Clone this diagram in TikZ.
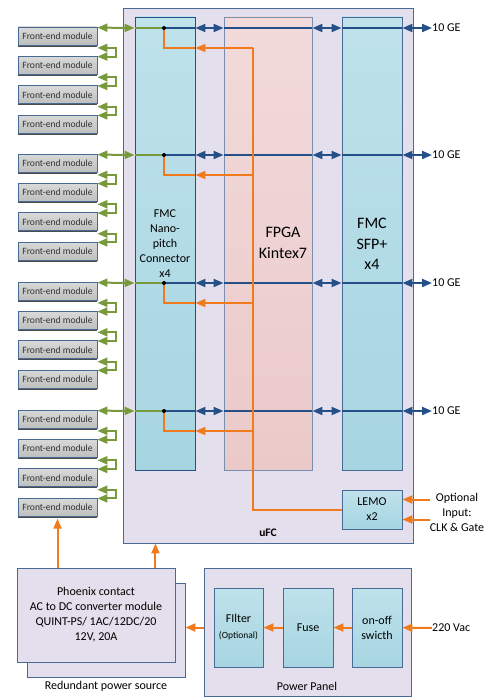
\documentclass[tikz,border=0pt]{standalone}
\usepackage{fontspec}
\setmainfont{Carlito}
\usetikzlibrary{arrows.meta,positioning,shadows}

\definecolor{lav}{HTML}{E4DFEC}
\definecolor{frame}{HTML}{4A6A96}
\definecolor{cyantop}{HTML}{BFE2EB}
\definecolor{cyanbot}{HTML}{A6D5E1}
\definecolor{pinktop}{HTML}{F2DADB}
\definecolor{pinkbot}{HTML}{EBC9C9}
\definecolor{greytop}{HTML}{D9D9D9}
\definecolor{greybot}{HTML}{BEBEBE}
\definecolor{gnline}{HTML}{789A3C}
\definecolor{blline}{HTML}{244F88}
\definecolor{orline}{HTML}{F07A1C}

\tikzset{
  board/.style={draw=frame, fill=lav, line width=0.9pt, inner sep=0pt},
  colbox/.style={draw=frame, top color=cyantop, bottom color=cyanbot, line width=0.9pt, inner sep=0pt},
  femod/.style={draw=frame, top color=greytop, bottom color=greybot, line width=0.8pt,
    minimum width=79pt, minimum height=18pt, inner sep=0pt, text=black!80,
    font=\fontsize{9.6}{11}\selectfont,
    drop shadow={shadow xshift=0.4pt, shadow yshift=-1.6pt, fill=black!70, opacity=1}},
  lbl/.style={align=center, inner sep=0pt, font=\fontsize{12}{15}\selectfont},
  biglbl/.style={align=center, inner sep=0pt, font=\fontsize{16}{20.5}\selectfont},
  gline/.style={gnline, line width=2pt},
  bline/.style={blline, line width=2pt},
  oline/.style={orline, line width=2pt},
}

\begin{document}
\begin{tikzpicture}[x=1pt, y=-1pt, >={Triangle[length=10pt,width=8pt]}]
  \useasboundingbox (0,0) rectangle (488,698);

  % uFC board
  \node[board, minimum width=290pt, minimum height=535pt] (ufc) at (268,275.5) {};
  \node[colbox, minimum width=60pt, minimum height=453pt, draw=blline] (fmc) at (165,243.5) {};
  \node[colbox, minimum width=88pt, minimum height=453pt, top color=pinktop, bottom color=pinkbot, draw=frame!75] (fpga) at (268,243.5) {};
  \node[colbox, minimum width=60pt, minimum height=453pt] (sfp) at (372,243.5) {};
  \node[colbox, lbl, minimum width=60pt, minimum height=39pt] (lemo) at (372,509.5) {LEMO\\x2};

  \node[lbl]    (fmctxt)  at (165,243.5) {FMC\\Nano-\\pitch\\Connector\\x4};
  \node[biglbl] (fpgatxt) at (283,243)   {FPGA\\Kintex7};
  \node[biglbl] (sfptxt)  at (372,244)   {FMC\\SFP+\\x4};
  \node[lbl, font=\bfseries\fontsize{11.5}{14}\selectfont] (ufctxt) at (268,533) {uFC};
  \node[lbl]    (optin)   at (457,512)   {Optional\\Input:\\CLK \& Gate};

  % four links
  \foreach \r/\y in {1/28,2/155,3/283,4/411}{
    \coordinate (j\r) at (164,\y);
    \coordinate (t\r) at (253,\y+20);
    \node[lbl, anchor=west] (ge\r) at (432,\y) {10 GE};
    \foreach \k in {1,...,4}
      \node[femod] (fe\r\k) at (57.5,{\y+8+29.4*(\k-1)}) {Front-end module};

    \draw[gline,<->] ([yshift=-1pt]fe\r1.north east) -- (j\r -| fmc.west);
    \draw[gline] (j\r -| fmc.west) -- (j\r);
    \foreach \k/\n in {1/2,2/3,3/4}
      \draw[gline,<->] ([yshift=-2.5pt]fe\r\k.south east) -- ++(19,0) |- ([yshift=-0.6pt]fe\r\n.north east);

    \draw[bline] (j\r) -- (j\r -| fmc.east);
    \draw[bline,<->] (j\r -| fmc.east) -- (j\r -| fpga.west);
    \draw[bline] (j\r -| fpga.west) -- (j\r -| fpga.east);
    \draw[bline,<->] (j\r -| fpga.east) -- (j\r -| sfp.west);
    \draw[bline] (j\r -| sfp.west) -- (j\r -| sfp.east);
    \draw[bline,<->] (j\r -| sfp.east) -- (ge\r.west);

    \draw[oline,->] (t\r) -- (t\r -| fmc.east);
    \draw[oline] (t\r -| fmc.east) -| (j\r);
  }
  \draw[oline] (t1) |- (lemo.west);
  \foreach \r in {1,...,4}
    \fill[black] (j\r) circle (2pt);

  \draw[oline,<-] ([yshift=10pt]lemo.east) -- ++(28,0);
  \draw[oline,<-] ([yshift=-10pt]lemo.east) -- ++(28,0);

  % power
  \node[board, minimum width=158pt, minimum height=94pt] (psub) at (106,630) {};
  \node[board, lbl, minimum width=158pt, minimum height=94pt] (psu) at (96,615)
    {Phoenix contact\\AC to DC converter module\\QUINT-PS/ 1AC/12DC/20\\12V, 20A};
  \node[lbl, below=4pt of psub] (redtxt) {Redundant power source};

  \node[board, minimum width=207pt, minimum height=128pt] (pp) at (307.5,632.5) {};
  \node[lbl] (pptxt) at (307,686) {Power Panel};
  \node[colbox, lbl, minimum width=49pt, minimum height=79pt] (filter) at (238.5,627.5)
    {FIlter\\[1pt]{\fontsize{9.5}{11}\selectfont (Optional)}};
  \node[colbox, lbl, minimum width=50pt, minimum height=79pt] (fuse) at (308,627.5) {Fuse};
  \node[colbox, lbl, minimum width=50pt, minimum height=79pt] (switch) at (377,627.5) {on-off\\swicth};
  \node[lbl, anchor=west] (vac) at (432,628) {220 Vac};

  \draw[oline,->] (vac) -- (switch);
  \draw[oline,->] (switch) -- (fuse);
  \draw[oline,->] (fuse) -- (filter);
  \draw[oline,->] (filter.west -| pp.west) -- (filter.west -| psub.east);

  \coordinate (pin) at ([xshift=-20pt]psu.north east);
  \draw[oline,->] (pin) -- (pin |- ufc.south);
  \draw[oline,->] (fe44.south |- psu.north) -- ([yshift=-2pt]fe44.south);
\end{tikzpicture}
\end{document}
